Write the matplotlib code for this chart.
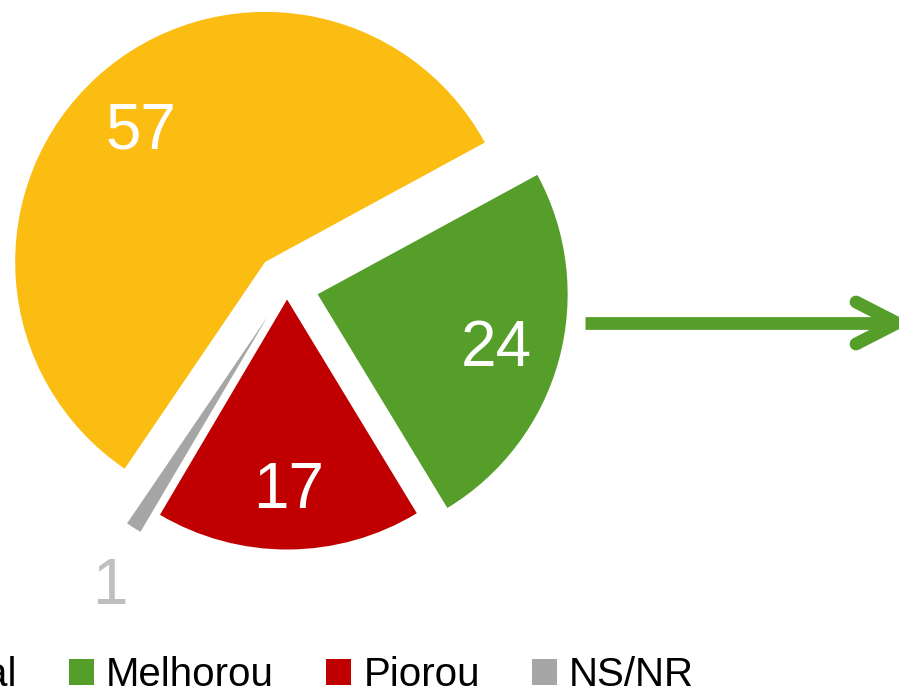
import matplotlib.pyplot as plt
import numpy as np

plt.rcParams['font.family'] = ['Liberation Sans', 'DejaVu Sans']

labels = ['Igual', 'Melhorou', 'Piorou', 'NS/NR']
values = [57, 24, 17, 1]
colors = ['#FBBD12', '#559E2A', '#C00000', '#A6A6A6']
explode = [0.13, 0.127, 0.054, 0.145]

W, H = 899, 693
fig = plt.figure(figsize=(W / 100, H / 100), dpi=100)
ax = fig.add_axes([0, 0, 1, 1])

# pie in pixel units (y up); matplotlib's explode is not scaled by radius
R = 250
total = sum(values)
wedges, texts, autotexts = ax.pie(
    values, colors=colors, explode=[e * R for e in explode],
    startangle=-124.2, counterclock=False, radius=R, center=(287, H - 286),
    autopct=lambda p: f'{p * total / 100:.0f}', pctdistance=0.74,
    frame=True, textprops=dict(color='white', fontsize=46))
ax.set_xlim(0, W)
ax.set_ylim(0, H)
ax.axis('off')
for t in autotexts:
    t.set_va('center_baseline')

# small slice: label outside, a bit further out than the others
w = wedges[3]
mid = np.deg2rad((w.theta1 + w.theta2) / 2 + 1.5)
autotexts[3].set_position((w.center[0] + 1.23 * R * np.cos(mid),
                           w.center[1] + 1.23 * R * np.sin(mid)))
autotexts[3].set_color('#BFBFBF')

# arrow from green slice
arrow_y = H - 323
ax.plot([585, 890], [arrow_y, arrow_y], color=colors[1], lw=9.2,
        solid_capstyle='butt')
ax.plot([856, 897, 856], [arrow_y + 21, arrow_y, arrow_y - 21],
        color=colors[1], lw=9.2, solid_capstyle='round',
        solid_joinstyle='miter')

fig.legend(wedges, labels, loc='lower left', bbox_to_anchor=(-108 / W, -0.002),
           ncol=4, frameon=False, fontsize=29, borderpad=0, borderaxespad=0,
           handlelength=0.62, handleheight=0.62, handletextpad=0.3,
           columnspacing=1.3)

fig.savefig('out.png', dpi=100)
